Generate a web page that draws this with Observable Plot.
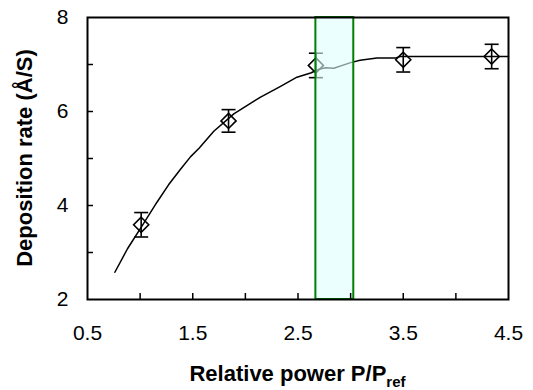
<!DOCTYPE html>
<html><head><meta charset="utf-8">
<script src="https://cdn.jsdelivr.net/npm/d3@7"></script>
<script src="https://cdn.jsdelivr.net/npm/@observablehq/plot@0.6"></script>
<style>
body{margin:0;background:#fff}
#chart svg{font-family:Arial,"Liberation Sans",sans-serif;display:block}
</style>
</head><body><div id="chart"></div>
<script>
// measured points with error bars
const power = [1.01, 1.84, 2.67, 3.50, 4.34];
const rate  = [3.59, 5.80, 6.98, 7.10, 7.17];
const err   = [0.26, 0.24, 0.26, 0.26, 0.26];
// fitted curve
const curveX = [0.76, 0.88, 1.02, 1.16, 1.27, 1.38, 1.48, 1.56, 1.70, 1.89, 2.14, 2.33, 2.49, 2.62, 2.70, 2.76, 2.84, 3.00, 3.09, 3.25, 3.43, 3.47, 4.50];
const curveY = [2.58, 3.08, 3.57, 4.07, 4.44, 4.76, 5.04, 5.22, 5.58, 5.95, 6.30, 6.53, 6.73, 6.82, 6.90, 6.93, 6.92, 7.04, 7.09, 7.14, 7.14, 7.17, 7.17];
// highlighted window
const windowStart = [2.67];
const windowEnd = [3.03];
// ticks
const xTickLabels = [0.5, 1.5, 2.5, 3.5, 4.5];
const xMinorTicks = [1, 1.5, 2, 2.5, 3, 3.5, 4];
const yTickLabels = [2, 4, 6, 8];
const yMinorTicks = [3, 4, 5, 6, 7];
const xTitle = "Relative power P/P";
const xTitleSub = "ref";
const yTitle = "Deposition rate (Å/S)";

const points = power.map((p, i) => ({x: p, y: rate[i], lo: rate[i] - err[i], hi: rate[i] + err[i]}));
const curve = curveX.map((x, i) => ({x, y: curveY[i]}));
const win = windowStart.map((s, i) => ({x1: s, x2: windowEnd[i]}));

const cap = {draw(ctx) { ctx.moveTo(-7, 0); ctx.lineTo(7, 0); }};

const W = 533, H = 390, ML = 87, MR = 25, MT = 17, MB = 91;

const svg = Plot.plot({
  width: W, height: H,
  marginLeft: ML, marginRight: MR, marginTop: MT, marginBottom: MB,
  x: {domain: [0.5, 4.5]},
  y: {domain: [2, 8]},
  style: {fontFamily: "Arial, 'Liberation Sans', sans-serif", fontSize: "21px", color: "black", background: "white"},
  marks: [
    Plot.line(curve, {x: "x", y: "y", stroke: "black", strokeWidth: 1.5}),
    Plot.ruleX(points, {x: "x", y1: "lo", y2: "hi", stroke: "black", strokeWidth: 1.6}),
    Plot.dot(points, {x: "x", y: "lo", symbol: cap, stroke: "black", strokeWidth: 1.6, r: 5}),
    Plot.dot(points, {x: "x", y: "hi", symbol: cap, stroke: "black", strokeWidth: 1.6, r: 5}),
    Plot.dot(points, {x: "x", y: "y", symbol: "diamond2", r: 6.8, stroke: "black", fill: "none", strokeWidth: 1.6}),
    Plot.rect(win, {x1: "x1", x2: "x2", fill: "#e0ffff", fillOpacity: 0.6, stroke: "green", strokeWidth: 2}),
    Plot.axisX(xMinorTicks, {tickSize: -6, tickFormat: () => "", strokeWidth: 1.5, label: null}),
    Plot.axisX(xTickLabels, {tickSize: 0, tickPadding: 26, label: null, fontSize: 21, tickFormat: d => d.toFixed(1)}),
    Plot.axisY(yMinorTicks, {tickSize: -6, tickFormat: () => "", strokeWidth: 1.5, label: null}),
    Plot.axisY(yTickLabels, {tickSize: 0, tickPadding: 19, label: null, fontSize: 21, tickFormat: d => String(d)}),
    Plot.frame({stroke: "black", strokeWidth: 2})
  ]
});

const s = d3.select(svg);
const xt = s.append("text")
  .attr("x", (ML + W - MR) / 2).attr("y", 381)
  .attr("text-anchor", "middle")
  .attr("font-weight", "bold").attr("font-size", 22).attr("fill", "black");
xt.append("tspan").text(xTitle);
xt.append("tspan").attr("font-size", 15).attr("dy", 6).text(xTitleSub);

s.append("text")
  .attr("transform", `translate(32,${MT + (H - MT - MB) / 2}) rotate(-90)`)
  .attr("text-anchor", "middle")
  .attr("font-weight", "bold").attr("font-size", 22).attr("fill", "black")
  .text(yTitle);

document.getElementById("chart").appendChild(svg);
</script>
</body></html>
